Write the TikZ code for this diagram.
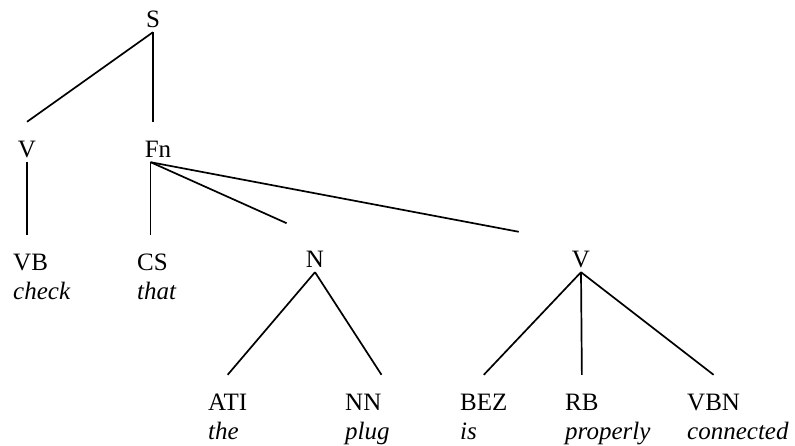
\documentclass[tikz,border=0pt]{standalone}
\usepackage{fontspec}
\setmainfont{Liberation Serif}
\begin{document}
\begin{tikzpicture}[x=1pt, y=-1pt,
    tag/.style={inner sep=0pt, text height=35pt, text depth=5pt, font=\fontsize{25}{30}\selectfont},
    word/.style={inner sep=0pt, anchor=base west, font=\fontsize{25}{30}\selectfont\itshape},
    branch/.style={line width=1.7pt}]
    \useasboundingbox (0,0) rectangle (795,445);

    \node[tag, anchor=base] (S) at (153,27) {S};

    \node[tag, anchor=base] (V) at (27,157) {V};
    \node[tag, anchor=base] (Fn) at (158,157) {Fn};
    \coordinate (fn-root) at ([xshift=6pt]Fn.south west);

    \node[tag, anchor=base west] (VB) at (13,270) {VB};
    \node[tag, anchor=base west] (CS) at (137,270) {CS};
    \node[tag, anchor=base] (N) at (315,267) {N};
    \node[tag, anchor=base] (V2) at (581,267) {V};

    \node[tag, anchor=base west] (ATI) at (208,410) {ATI};
    \node[tag, anchor=base west] (NN) at (345,410) {NN};
    \node[tag, anchor=base west] (BEZ) at (460,410) {BEZ};
    \node[tag, anchor=base west] (RB) at (565,410) {RB};
    \node[tag, anchor=base west] (VBN) at (687,410) {VBN};

    \node[word] (check) at ([yshift=-29pt]VB.base west) {check};
    \node[word] (that) at ([yshift=-29pt]CS.base west) {that};
    \node[word] (the) at ([yshift=-29pt]ATI.base west) {the};
    \node[word] (plug) at ([yshift=-29pt]NN.base west) {plug};
    \node[word] (is) at ([yshift=-29pt]BEZ.base west) {is};
    \node[word] (properly) at ([yshift=-29pt]RB.base west) {properly};
    \node[word] (connected) at ([yshift=-29pt]VBN.base west) {connected};

    \draw[branch] (S.south) -- (V.north);
    \draw[branch] (S.south) -- (S.south |- Fn.north);

    \draw[branch] (V.south) -- (V.south |- VB.north);
    \draw[branch] (fn-root) -- (fn-root |- CS.north);
    \draw[branch, shorten >=21pt] (fn-root) -- (N.north west);
    \draw[branch, shorten >=54pt] (fn-root) -- ([yshift=-10pt]V2.north west);

    \draw[branch] (N.south) -- (ATI.north);
    \draw[branch] (N.south) -- (NN.north east);

    \draw[branch] (V2.south) -- (BEZ.north);
    \draw[branch] (V2.south) -- (RB.north);
    \draw[branch] (V2.south) -- (VBN.north);
  \end{tikzpicture}
\end{document}
